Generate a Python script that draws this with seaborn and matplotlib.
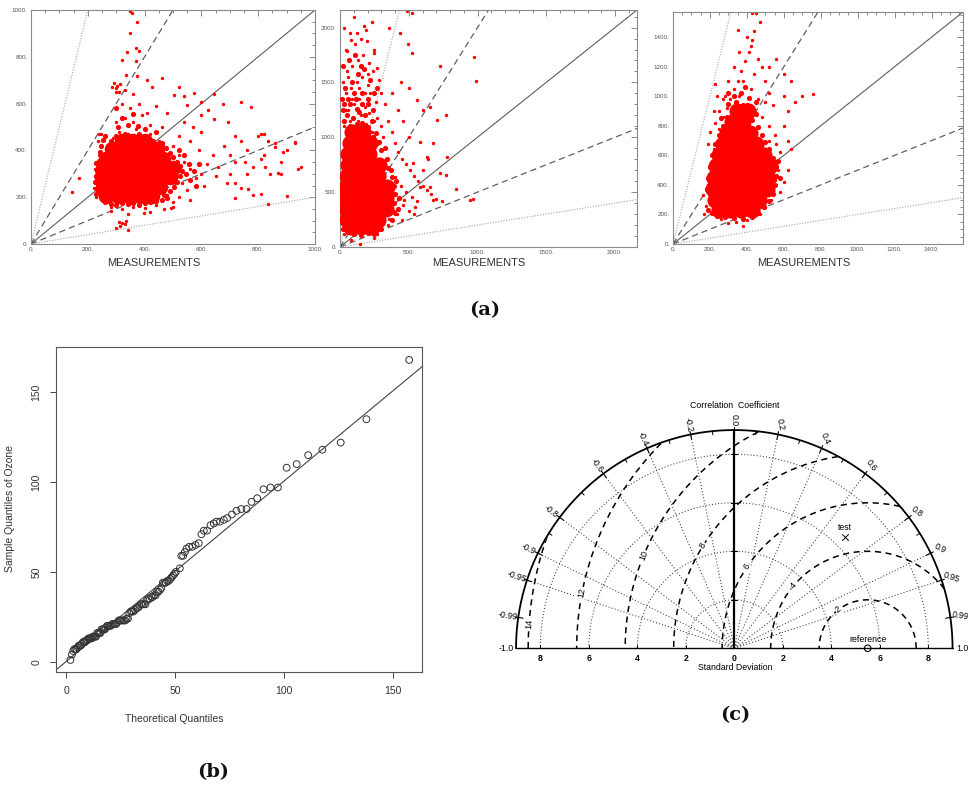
import numpy as np
import pandas as pd
import matplotlib
matplotlib.use("Agg")
import matplotlib.pyplot as plt
import seaborn as sns
from matplotlib.ticker import MultipleLocator, FuncFormatter

# ------------------------------------------------------------------ data
# (a) model vs. measurements scatter panels -- reference lines y = k * x
REF_SLOPES = [5, 2, 1, 0.5, 0.2]
A_AXIS_MAX = [1000, 2160, 1570]
A_MAJOR = [200, 500, 200]
A_MINOR = [50, 100, 50]
A_XLABEL = "MEASUREMENTS"

# dense cores of the clouds
A1_CORE = [(265, 205), (305, 205), (345, 205), (385, 205), (425, 205),
           (255, 245), (295, 245), (335, 245), (375, 245), (415, 245), (455, 245),
           (250, 285), (290, 285), (330, 285), (370, 285), (410, 285), (450, 285), (490, 285),
           (255, 325), (295, 325), (335, 325), (375, 325), (415, 325), (455, 325), (500, 325),
           (265, 365), (305, 365), (345, 365), (385, 365), (425, 365), (465, 365),
           (285, 405), (325, 405), (365, 405), (405, 405), (445, 405),
           (320, 440), (360, 440), (400, 440)]
# fringe of the clouds (dense dots around the cores)
A1_FRINGE = [(228, 215), (232, 235), (226, 265), (230, 290), (234, 310), (228, 345), (238, 355), (242, 395),
             (246, 420), (252, 445), (262, 460), (260, 180), (280, 172), (300, 168), (320, 175), (340, 170),
             (360, 176), (380, 168), (400, 174), (420, 178), (440, 182), (460, 190), (480, 195), (470, 210),
             (490, 225), (505, 245), (515, 265), (525, 290), (530, 310), (525, 335), (515, 350), (500, 370),
             (490, 390), (475, 410), (460, 430), (545, 300), (560, 275), (555, 340), (540, 380), (520, 400),
             (575, 310), (590, 340), (580, 250), (270, 420), (280, 440), (300, 460), (330, 470), (350, 462),
             (380, 468), (410, 455), (430, 440), (460, 420), (305, 500), (340, 510), (375, 505), (400, 490),
             (440, 480), (320, 540), (360, 555), (300, 580)]
# scattered single measurements
A1_POINTS = [(228, 200), (232, 260), (226, 320), (240, 380), (236, 440), (248, 470), (222, 240), (238, 300),
             (290, 455), (310, 480), (340, 470), (370, 490), (395, 460), (420, 470), (450, 440), (300, 520),
             (330, 540), (360, 520), (390, 550), (420, 510), (460, 500), (350, 580), (380, 600), (320, 600),
             (300, 650), (330, 660), (410, 560), (440, 590), (480, 560), (360, 640),
             (500, 420), (520, 380), (540, 350), (560, 320), (530, 260), (550, 230), (580, 280), (600, 300),
             (620, 340), (520, 460), (560, 440), (590, 400), (610, 250), (640, 380), (600, 480), (480, 210),
             (520, 200), (560, 190), (500, 180), (650, 290), (660, 330), (570, 500), (540, 520),
             (280, 160), (320, 150), (360, 160), (400, 155), (440, 165), (470, 150), (340, 130), (420, 135), (500, 160),
             (680, 420), (700, 380), (720, 350), (740, 440), (760, 400), (780, 330), (800, 460), (820, 380),
             (840, 300), (860, 430), (880, 350), (900, 400), (930, 430), (700, 300), (740, 240), (780, 210),
             (820, 470), (690, 260), (720, 460), (760, 300), (880, 300), (950, 330),
             (350, 995), (356, 986), (374, 947), (348, 903), (339, 821), (368, 839), (380, 824), (322, 787),
             (368, 784), (333, 723), (374, 716), (463, 709), (410, 699), (292, 687), (304, 677), (298, 666),
             (315, 683), (286, 671), (309, 651), (427, 669), (522, 669), (573, 647), (504, 637), (537, 634),
             (646, 640), (676, 597), (740, 608), (776, 586), (599, 605), (551, 594), (622, 572), (599, 550),
             (646, 536), (693, 522), (811, 471), (835, 442), (858, 413), (929, 435), (888, 392), (811, 363),
             (752, 352), (823, 327), (870, 305), (941, 320), (717, 262), (764, 233), (717, 197), (811, 212),
             (835, 173), (902, 205), (492, 154), (398, 133), (315, 75), (300, 70), (320, 90), (330, 85),
             (340, 60), (310, 95), (335, 100), (280, 140), (144, 222), (168, 280), (241, 471)]

A2_CORE = [(80, 180), (155, 180), (230, 180),
           (50, 250), (125, 250), (200, 250), (275, 250),
           (45, 350), (120, 350), (195, 350), (270, 350), (335, 350),
           (40, 450), (115, 450), (190, 450), (265, 450), (335, 450),
           (45, 550), (120, 550), (195, 550), (270, 550), (340, 550),
           (50, 650), (125, 650), (200, 650), (275, 650),
           (55, 750), (130, 750), (205, 750), (280, 750),
           (60, 850), (135, 850), (210, 850),
           (70, 950), (145, 950), (215, 950),
           (90, 1050), (165, 1050)]
A2_FRINGE = [(380, 250), (390, 320), (395, 400), (400, 480), (390, 560), (380, 640), (350, 720), (340, 800),
             (300, 880), (280, 960), (260, 1040), (420, 350), (430, 450), (410, 600), (370, 700), (330, 900),
             (30, 1150), (75, 1100), (120, 1120), (160, 1130), (200, 1090), (240, 1000), (270, 950), (50, 1200),
             (95, 1180), (140, 1230), (185, 1200), (230, 1150), (30, 1300), (120, 1260), (200, 1300), (100, 1400),
             (160, 1300), (60, 1350), (240, 1250), (20, 1250), (100, 120), (150, 110), (200, 130), (250, 120),
             (60, 140), (300, 160), (20, 160),
             (15, 1350), (70, 1300), (115, 1350), (160, 1400), (205, 1350), (250, 1400), (35, 1450), (90, 1500),
             (130, 1580), (175, 1620), (220, 1520), (65, 1700), (110, 1750), (155, 1650), (20, 1650), (270, 1450)]
A2_POINTS = [(30, 1100), (70, 1150), (110, 1080), (150, 1200), (190, 1120), (230, 1050), (270, 1180), (60, 1250),
             (100, 1300), (140, 1350), (180, 1280), (220, 1400), (260, 1320), (40, 1400), (80, 1450), (120, 1500),
             (160, 1550), (200, 1480), (240, 1600), (280, 1520), (50, 1600), (90, 1650), (130, 1700), (170, 1750),
             (210, 1680), (250, 1800), (110, 1850), (150, 1900), (70, 1950), (190, 1980), (230, 2050), (100, 2100),
             (40, 1800), (30, 2000), (485, 2149), (522, 2134), (353, 1997), (433, 1951), (173, 2018), (77, 1890),
             (53, 1783), (197, 1875), (245, 1768), (125, 1951), (269, 1631),
             (20, 1150), (45, 1250), (130, 1150), (170, 1050), (210, 1220), (300, 1100), (310, 1000), (250, 1150),
             (85, 1350), (185, 1400), (25, 1500), (140, 1450), (300, 1400), (60, 1550), (200, 1580),
             (654, 1280), (558, 1341), (606, 1250), (702, 1158), (774, 1204), (582, 960), (678, 945), (630, 823),
             (534, 762), (726, 670), (654, 549), (582, 549), (678, 427), (546, 366), (413, 305), (353, 259), (462, 427),
             (330, 1300), (350, 1150), (380, 1050), (400, 950), (420, 870), (450, 800), (480, 760), (510, 700),
             (540, 650), (570, 600), (600, 560), (630, 520), (660, 480), (700, 440), (740, 420), (360, 700),
             (400, 640), (440, 560), (480, 500), (520, 460), (560, 420), (380, 500), (420, 440), (460, 380),
             (500, 330), (540, 300), (400, 300), (450, 250), (350, 350), (600, 700), (640, 800), (500, 1000),
             (460, 1150), (420, 1250), (380, 1400), (440, 1500), (500, 1450),
             (780, 823), (846, 533), (966, 442), (942, 427), (774, 655), (726, 1646), (978, 1732), (990, 1509),
             (498, 1853), (522, 1768), (77, 61), (29, 122), (173, 152), (269, 122), (149, 30), (245, 85),
             (300, 180), (350, 200)]

A3_CORE = [(250, 230), (310, 230), (370, 230), (430, 230),
           (225, 300), (285, 300), (345, 300), (405, 300), (465, 300),
           (215, 375), (275, 375), (335, 375), (395, 375), (455, 375), (510, 375),
           (220, 450), (280, 450), (340, 450), (400, 450), (460, 450), (515, 450),
           (235, 525), (295, 525), (355, 525), (415, 525), (475, 525), (525, 525),
           (250, 600), (310, 600), (370, 600), (430, 600), (490, 600),
           (270, 675), (330, 675), (390, 675), (450, 675),
           (295, 750), (355, 750), (415, 750),
           (320, 825), (380, 825), (345, 900), (405, 900)]
A3_FRINGE = [(190, 230), (200, 300), (185, 370), (190, 450), (200, 520), (210, 600), (230, 680), (250, 740),
             (270, 800), (290, 860), (330, 880), (360, 900), (400, 880), (430, 840), (460, 790), (480, 740),
             (500, 690), (520, 640), (540, 580), (555, 520), (560, 460), (550, 400), (540, 340), (520, 290),
             (490, 250), (460, 210), (430, 180), (380, 170), (330, 175), (280, 180), (240, 190), (210, 210),
             (300, 950), (340, 960), (380, 940), (420, 920), (260, 850), (450, 880), (520, 560), (570, 560),
             (580, 450), (330, 1000), (370, 1020), (410, 990), (450, 960), (390, 1060), (300, 1020)]
A3_POINTS = [(170, 200), (180, 260), (165, 330), (190, 400), (200, 480), (210, 560), (220, 640), (240, 700),
             (250, 780), (270, 860), (290, 920), (310, 980), (330, 1050), (350, 1100), (370, 1170), (390, 1240),
             (410, 1300), (430, 1380), (440, 1440), (470, 1500), (450, 1560), (430, 1560), (360, 1000), (400, 950),
             (440, 900), (480, 860), (520, 800), (550, 740), (560, 680), (580, 620), (560, 560), (570, 500),
             (550, 430), (540, 360), (530, 300), (500, 250), (470, 200), (400, 160), (340, 150), (300, 140),
             (260, 170), (380, 120), (330, 1200), (300, 1100), (280, 1000), (420, 1050), (460, 980), (500, 960),
             (520, 1020), (540, 940), (600, 1000), (620, 900), (640, 1100), (660, 960), (700, 1000), (757, 1018),
             (600, 800), (620, 700), (640, 640), (500, 1100), (480, 1200), (460, 1250), (520, 1200), (400, 1400),
             (420, 1340), (360, 1300), (440, 1150), (380, 1100), (250, 900), (230, 820), (270, 980), (620, 500),
             (600, 420), (580, 350), (240, 1000), (220, 900), (200, 760), (190, 680), (480, 640), (520, 700),
             (230, 1080), (350, 1450), (600, 1150), (560, 1250)]

# (b) Q-Q plot of Ozone
QQ_THEORETICAL = [2.0, 2.7, 3.3, 3.8, 4.3, 4.8, 5.3, 5.8, 6.3, 6.8, 7.3, 7.8, 8.3, 8.8, 9.3, 9.8, 10.3,
                  10.8, 11.3, 11.8, 12.3, 12.8, 13.3, 13.8, 14.3, 14.8, 15.3, 15.8, 16.3, 16.8, 17.3, 17.8,
                  18.3, 18.8, 19.4, 20.0, 20.6, 21.2, 21.8, 22.4, 23.0, 23.6, 24.2, 24.8, 25.4, 26.0, 26.6,
                  27.2, 27.8, 28.4,
                  29.0, 29.7, 30.3, 31.0, 31.7, 32.4, 33.0, 33.7, 34.4, 35.0, 35.7, 36.4, 37.0, 37.7, 38.4,
                  39.1, 39.7, 40.4, 41.1, 41.7, 42.4, 43.1, 43.7, 44.4, 45.1, 45.8, 46.4, 47.1, 47.8, 48.4,
                  49.1, 49.8, 50.4,
                  52.2, 52.9, 53.7, 54.5, 55.3, 56.5, 57.9, 59.4, 60.9, 62.1, 63.2, 64.7, 66.3, 67.8, 69.0,
                  70.6, 72.4, 73.9, 76.1, 78.2, 80.4, 82.8, 85.1, 87.7, 90.6, 93.8, 97.2, 101.2, 105.8,
                  111.1, 117.6, 126.0, 137.8, 157.4]
QQ_SAMPLE = [1, 4, 6, 7, 7, 7, 8, 9, 9, 9, 10, 11, 11, 11, 12, 12, 13, 13, 13, 13, 14, 14, 14, 14,
             16, 16, 16, 16, 18, 18, 18, 18, 19, 20, 20, 20, 20, 21, 21, 21, 21, 22, 23, 23, 23, 23,
             23, 23, 24, 24,
             27, 28, 28, 28, 29, 30, 30, 31, 32, 32, 32, 32, 34, 35, 35, 36, 36, 37, 37, 39, 39, 40,
             41, 44, 44, 44, 45, 45, 46, 47, 48, 49, 50,
             52, 59, 59, 61, 63, 64, 64, 65, 66, 71, 73, 73, 76, 77, 78, 78, 79, 80, 82, 84, 85, 85,
             89, 91, 96, 97, 97, 108, 110, 115, 118, 122, 135, 168]
QQ_LINE_INTERCEPT = 0.1
QQ_LINE_SLOPE = 1.005
QQ_TICKS = [0, 50, 100, 150]

# (c) Taylor diagram
TAYLOR_MAX_STD = 9.0
STD_GRID = [2, 4, 6, 8]
STD_TICKS = [-8, -6, -4, -2, 0, 2, 4, 6, 8]
CORR_GRID = [0.2, 0.4, 0.6, 0.8, 0.9, 0.95, -0.2, -0.4, -0.6, -0.8, -0.9, -0.95]
CORR_LABELS = [1.0, 0.99, 0.95, 0.9, 0.8, 0.6, 0.4, 0.2, 0.0,
               -0.2, -0.4, -0.6, -0.8, -0.9, -0.95, -0.99, -1.0]
CORR_MINOR = [0.1, 0.3, 0.5, 0.7, 0.85, -0.1, -0.3, -0.5, -0.7, -0.85]
RMS_GRID = [2, 4, 6, 8, 10, 12, 14]
REF_STD = 5.5
TEST_STD = 6.48
TEST_CORR = 0.704

# ------------------------------------------------------------------ layout / style
RMS_LABEL_DEG = [127, 140, 146, 148, 157.6, 169, 175.8]

sns.set_theme(style="white")
plt.rcParams["font.family"] = ["Liberation Sans", "DejaVu Sans"]

W, H = 968, 785
fig = plt.figure(figsize=(W / 100, H / 100), dpi=100)
fig.patch.set_facecolor("white")


def add_px_axes(left, top, right, bottom):
    return fig.add_axes([left / W, 1 - bottom / H, (right - left) / W, (bottom - top) / H])


LINE_STYLE = {
    5: dict(color="#a6a6a6", lw=0.8, ls=(0, (1, 1.4))),
    2: dict(color="#5e5e5e", lw=0.9, ls=(0, (5, 3.2))),
    1: dict(color="#5e5e5e", lw=0.8, ls="-"),
    0.5: dict(color="#5e5e5e", lw=0.9, ls=(0, (5, 3.2))),
    0.2: dict(color="#a6a6a6", lw=0.8, ls=(0, (1, 1.4))),
}


def scatter_panel(box, lim, major, minor, core, fringe, pts, core_s, label_x):
    ax = add_px_axes(*box)
    xs = np.array([0.0, lim])
    for sl in REF_SLOPES:
        ax.plot(xs, sl * xs, zorder=1, **LINE_STYLE[sl])
    for data, size, z in [(pts, 6, 2), (fringe, 14, 3), (core, core_s, 4)]:
        df = pd.DataFrame(data, columns=["x", "y"])
        sns.scatterplot(data=df, x="x", y="y", s=size, color="#ff0000", linewidth=0,
                        ax=ax, legend=False, zorder=z)
    ax.set_xlim(0, lim)
    ax.set_ylim(0, lim)
    for axis in (ax.xaxis, ax.yaxis):
        axis.set_major_locator(MultipleLocator(major))
        axis.set_minor_locator(MultipleLocator(minor))
        axis.set_major_formatter(FuncFormatter(lambda v, p: f"{v:.0f}."))
    ax.tick_params(which="both", direction="in", top=True, right=True, color="#777777",
                   labelcolor="#555555", labelsize=4.5, width=0.6, pad=2.5)
    ax.tick_params(which="major", length=4)
    ax.tick_params(which="minor", length=2)
    ax.set_xlabel("")
    ax.set_ylabel("")
    for sp in ax.spines.values():
        sp.set_color("#8a8a8a")
        sp.set_linewidth(0.8)
    fig.text(label_x / W, 1 - 263 / H, A_XLABEL, ha="center", va="center",
             fontsize=8, color="#333333")
    return ax


scatter_panel((31, 10, 315, 244), A_AXIS_MAX[0], A_MAJOR[0], A_MINOR[0],
              A1_CORE, A1_FRINGE, A1_POINTS, 125, 154)
scatter_panel((340, 10, 637, 247), A_AXIS_MAX[1], A_MAJOR[1], A_MINOR[1],
              A2_CORE, A2_FRINGE, A2_POINTS, 135, 479)
scatter_panel((673, 12, 963, 244), A_AXIS_MAX[2], A_MAJOR[2], A_MINOR[2],
              A3_CORE, A3_FRINGE, A3_POINTS, 135, 804)

# ------------------------------------------------------------------ (b) Q-Q plot
axb = add_px_axes(56, 347, 422, 672)
axb.axline((0, QQ_LINE_INTERCEPT), slope=QQ_LINE_SLOPE, color="#444444", lw=0.8, zorder=1)
qq = pd.DataFrame({"theoretical": QQ_THEORETICAL, "sample": QQ_SAMPLE})
sns.scatterplot(data=qq, x="theoretical", y="sample", s=24, ax=axb, legend=False, zorder=2)
coll = axb.collections[-1]
coll.set_facecolor("none")
coll.set_edgecolor("#333333")
coll.set_linewidth(0.7)
axb.set_xlim(-4.6, 163.3)
axb.set_ylim(-5.7, 175.2)
axb.set_xticks(QQ_TICKS)
axb.set_yticks(QQ_TICKS)
axb.tick_params(direction="out", length=4.3, width=0.7, color="#444444", labelsize=7.5,
                labelcolor="#333333", pad=6, bottom=True, left=True)
for lbl in axb.get_yticklabels():
    lbl.set_rotation(90)
    lbl.set_va("center")
axb.set_xlabel("")
axb.set_ylabel("")
for sp in axb.spines.values():
    sp.set_color("#555555")
    sp.set_linewidth(0.8)
fig.text(174 / W, 1 - 719 / H, "Theoretical Quantiles", ha="center", va="center",
         fontsize=7.5, color="#333333")
fig.text(10 / W, 1 - 509 / H, "Sample Quantiles of Ozone", ha="center", va="center",
         rotation=90, fontsize=7.5, color="#333333")

# ------------------------------------------------------------------ (c) Taylor diagram
axc = add_px_axes(495, 390, 968, 680)
ox, oy, k = 734.3, 648.3, 24.25
axc.set_xlim((495 - ox) / k, (968 - ox) / k)
axc.set_ylim((oy - 680) / k, (oy - 390) / k)
axc.axis("off")
R = TAYLOR_MAX_STD
t = np.linspace(0, np.pi, 500)

for s in STD_GRID:
    axc.plot(s * np.cos(t), s * np.sin(t), color="#3a3a3a", lw=0.75, ls=(0, (1, 2)), zorder=1)
for c in CORR_GRID:
    a = np.arccos(c)
    axc.plot([0, R * np.cos(a)], [0, R * np.sin(a)], color="#3a3a3a", lw=0.75,
             ls=(0, (1, 2)), zorder=1)
for rr, ang in zip(RMS_GRID, RMS_LABEL_DEG):
    xs = REF_STD + rr * np.cos(t)
    ys = rr * np.sin(t)
    inside = xs ** 2 + ys ** 2 <= R ** 2
    axc.plot(np.where(inside, xs, np.nan), np.where(inside, ys, np.nan), color="black",
             lw=1.1, ls=(0, (4, 3)), zorder=2)
    th = np.deg2rad(ang)
    axc.text(REF_STD + rr * np.cos(th), rr * np.sin(th), f"{rr}", rotation=ang - 90,
             ha="center", va="center", fontsize=6.5, color="black", zorder=3,
             rotation_mode="anchor",
             bbox=dict(boxstyle="square,pad=0.1", fc="white", ec="none"))

axc.plot(R * np.cos(t), R * np.sin(t), color="black", lw=1.3, zorder=4)
axc.plot([-R, R], [0, 0], color="black", lw=1.0, zorder=4)
axc.plot([0, 0], [0, R], color="black", lw=1.6, zorder=4)

for c in CORR_LABELS:
    a = np.arccos(c)
    deg = np.rad2deg(a)
    if abs(c) < 1:
        axc.plot([8.8 * np.cos(a), 9.12 * np.cos(a)], [8.8 * np.sin(a), 9.12 * np.sin(a)],
                 color="black", lw=0.8, zorder=4)
    txt = f"{c:.2f}".rstrip("0")
    if txt.endswith("."):
        txt += "0"
    rot = -deg if c >= 0 else deg - 180
    axc.text(9.42 * np.cos(a), 9.42 * np.sin(a), txt, rotation=rot, rotation_mode="anchor",
             ha="center", va="center", fontsize=6.3, color="black", zorder=5)
for c in CORR_MINOR:
    a = np.arccos(c)
    axc.plot([8.85 * np.cos(a), R * np.cos(a)], [8.85 * np.sin(a), R * np.sin(a)],
             color="black", lw=0.7, zorder=4)

for v in STD_TICKS:
    axc.plot([v, v], [0, 0.14], color="black", lw=0.7, zorder=4)
    axc.text(v, -0.42, f"{abs(v)}", ha="center", va="center", fontsize=6.3,
             fontweight="bold", color="black")
for s in STD_GRID:
    axc.plot([-0.13, 0.13], [s, s], color="black", lw=0.8, zorder=4)

axc.text(0, 10.03, "Correlation  Coefficient", ha="center", va="center", fontsize=6.3, color="black")
axc.text(0.03, -0.8, "Standard Deviation", ha="center", va="center", fontsize=6.3, color="black")

ta = np.arccos(TEST_CORR)
pts_c = pd.DataFrame({"x": [TEST_STD * np.cos(ta)], "y": [TEST_STD * np.sin(ta)]})
sns.scatterplot(data=pts_c, x="x", y="y", marker="x", s=22, color="black", linewidth=0.7,
                ax=axc, legend=False, zorder=6)
axc.text(TEST_STD * np.cos(ta), TEST_STD * np.sin(ta) + 0.38, "test", ha="center",
         va="center", fontsize=6.3, color="black")
ref_c = pd.DataFrame({"x": [REF_STD], "y": [0.0]})
sns.scatterplot(data=ref_c, x="x", y="y", marker="o", s=22, ax=axc, legend=False, zorder=6)
rc = axc.collections[-1]
rc.set_facecolor("none")
rc.set_edgecolor("black")
rc.set_linewidth(0.8)
axc.text(REF_STD, 0.36, "reference", ha="center", va="center", fontsize=6.3, color="black")
axc.set_xlabel("")
axc.set_ylabel("")

# ------------------------------------------------------------------ panel letters
for lab, x, y in [("(a)", 485, 310), ("(b)", 213, 772), ("(c)", 735, 715)]:
    fig.text(x / W, 1 - y / H, lab, ha="center", va="center", fontsize=14,
             fontweight="bold", family="DejaVu Serif", color="#111111")

fig.savefig("out.png", dpi=100, facecolor="white")
